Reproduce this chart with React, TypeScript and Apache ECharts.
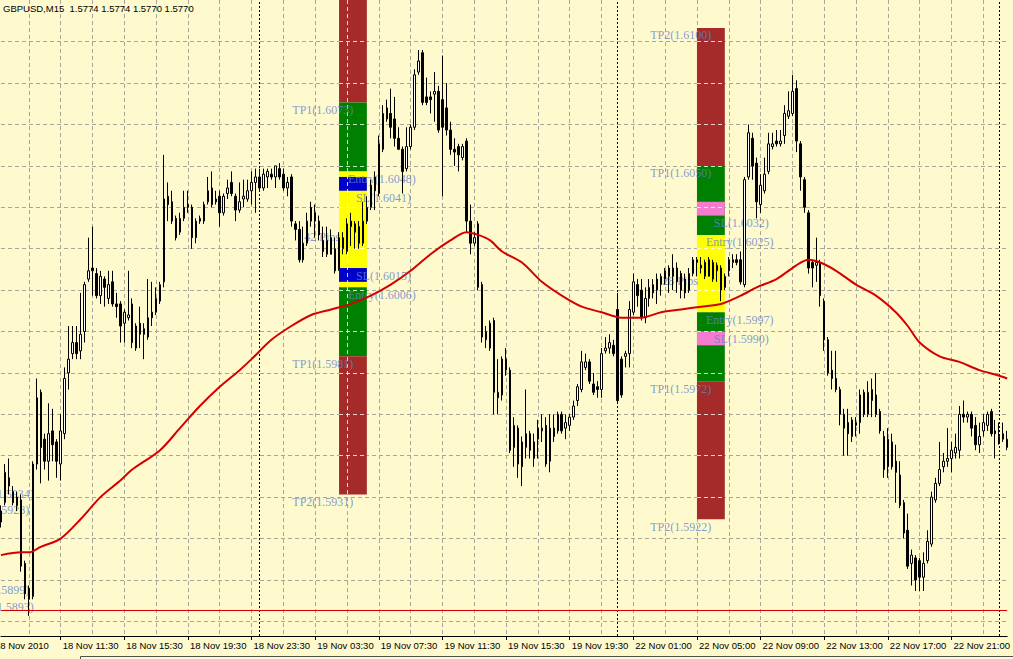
import React, { useEffect, useRef } from 'react';
import * as echarts from 'echarts';

// ---------- text ----------
const TITLE = 'GBPUSD,M15  1.5774 1.5774 1.5770 1.5770';
const FIRST_DATE_LABEL = '18 Nov 2010';
const TIME_TICKS = [
  '18 Nov 11:30', '18 Nov 15:30', '18 Nov 19:30', '18 Nov 23:30',
  '19 Nov 03:30', '19 Nov 07:30', '19 Nov 11:30', '19 Nov 15:30', '19 Nov 19:30',
  '22 Nov 01:00', '22 Nov 05:00', '22 Nov 09:00', '22 Nov 13:00', '22 Nov 17:00', '22 Nov 21:00',
];
const DAY_SEPARATORS = ['19 Nov 00:00', '22 Nov 00:00', '23 Nov 00:00'];

// trading sessions (M15 bars)
const SESSIONS = [
  { start: '2010-11-18T07:45:00Z', end: '2010-11-19T22:15:00Z' },
  { start: '2010-11-22T00:00:00Z', end: '2010-11-23T00:30:00Z' },
];

// ---------- price data: [open, close, low, high] ----------
const OHLC = [
  [1.5925,1.5921,1.5919,1.5927],[1.5928,1.5939,1.5927,1.5942],[1.5937,1.5934,1.5931,1.5944],[1.5932,1.5928,1.5927,1.5934],
  [1.5930,1.5927,1.5925,1.5932],[1.5929,1.5905,1.5903,1.5931],[1.5906,1.5895,1.5893,1.5907],[1.5897,1.5893,1.5887,1.5898],
  [1.5894,1.5942,1.5893,1.5943],[1.5942,1.5966,1.5940,1.5973],[1.5968,1.5948,1.5935,1.5969],[1.5951,1.5943,1.5940,1.5953],
  [1.5943,1.5953,1.5936,1.5964],[1.5954,1.5949,1.5943,1.5962],[1.5950,1.5943,1.5937,1.5951],[1.5942,1.5954,1.5936,1.5960],
  [1.5953,1.5973,1.5951,1.5977],[1.5975,1.5980,1.5969,1.5992],[1.5982,1.5986,1.5980,1.5992],[1.5986,1.5982,1.5980,1.5992],
  [1.5983,1.5989,1.5980,1.6004],[1.5990,1.6007,1.5986,1.6008],[1.6009,1.6012,1.6008,1.6024],[1.6013,1.6012,1.6003,1.6028],
  [1.6011,1.6003,1.6002,1.6013],[1.6003,1.6010,1.6000,1.6012],[1.6009,1.6006,1.5999,1.6010],[1.6002,1.6007,1.6000,1.6012],
  [1.6008,1.6000,1.5999,1.6012],[1.6000,1.5999,1.5995,1.6004],[1.6000,1.5992,1.5986,1.6001],[1.5993,1.5997,1.5986,1.5998],
  [1.5995,1.5996,1.5994,1.6012],[1.6000,1.5986,1.5984,1.6002],[1.5984,1.5992,1.5983,1.5993],[1.5993,1.5989,1.5984,1.5999],
  [1.5991,1.5989,1.5980,1.5993],[1.5988,1.5995,1.5987,1.6009],[1.5997,1.5995,1.5992,1.6008],[1.5997,1.6002,1.5996,1.6006],
  [1.6001,1.6007,1.6000,1.6008],[1.6008,1.6038,1.6006,1.6054],[1.6039,1.6036,1.6030,1.6044],[1.6037,1.6030,1.6029,1.6041],
  [1.6031,1.6024,1.6023,1.6032],[1.6026,1.6031,1.6025,1.6033],[1.6031,1.6035,1.6030,1.6041],[1.6036,1.6035,1.6033,1.6041],
  [1.6035,1.6024,1.6020,1.6036],[1.6024,1.6030,1.6022,1.6031],[1.6030,1.6031,1.6029,1.6032],[1.6030,1.6036,1.6029,1.6037],
  [1.6037,1.6041,1.6036,1.6046],[1.6042,1.6036,1.6035,1.6048],[1.6038,1.6037,1.6036,1.6041],[1.6039,1.6033,1.6028,1.6041],
  [1.6033,1.6039,1.6032,1.6040],[1.6040,1.6042,1.6038,1.6045],[1.6044,1.6040,1.6039,1.6048],[1.6039,1.6034,1.6030,1.6040],
  [1.6034,1.6037,1.6033,1.6044],[1.6038,1.6039,1.6035,1.6045],[1.6038,1.6041,1.6037,1.6045],[1.6041,1.6044,1.6036,1.6048],
  [1.6044,1.6046,1.6033,1.6049],[1.6046,1.6042,1.6041,1.6049],[1.6042,1.6047,1.6041,1.6049],[1.6046,1.6048,1.6042,1.6049],
  [1.6047,1.6046,1.6045,1.6049],[1.6046,1.6050,1.6042,1.6050],[1.6049,1.6046,1.6045,1.6051],[1.6047,1.6042,1.6041,1.6049],
  [1.6042,1.6044,1.6039,1.6046],[1.6046,1.6030,1.6028,1.6047],[1.6029,1.6027,1.6023,1.6030],[1.6027,1.6016,1.6015,1.6030],
  [1.6022,1.6016,1.6015,1.6028],[1.6022,1.6030,1.6021,1.6033],[1.6030,1.6035,1.6028,1.6037],[1.6033,1.6030,1.6024,1.6036],
  [1.6030,1.6025,1.6023,1.6032],[1.6023,1.6019,1.6017,1.6028],[1.6018,1.6023,1.6017,1.6028],[1.6024,1.6018,1.6018,1.6027],
  [1.6020,1.6012,1.6011,1.6024],[1.6013,1.6024,1.6012,1.6026],[1.6020,1.6024,1.6018,1.6026],[1.6019,1.6029,1.6018,1.6031],
  [1.6028,1.6030,1.6021,1.6033],[1.6029,1.6026,1.6020,1.6030],[1.6028,1.6022,1.6020,1.6030],[1.6022,1.6030,1.6021,1.6037],
  [1.6030,1.6035,1.6029,1.6039],[1.6035,1.6043,1.6034,1.6045],[1.6046,1.6041,1.6034,1.6048],[1.6040,1.6058,1.6039,1.6061],
  [1.6056,1.6069,1.6055,1.6072],[1.6067,1.6071,1.6066,1.6074],[1.6069,1.6064,1.6060,1.6078],[1.6067,1.6060,1.6057,1.6075],
  [1.6060,1.6056,1.6056,1.6064],[1.6056,1.6048,1.6040,1.6057],[1.6049,1.6057,1.6048,1.6064],[1.6057,1.6064,1.6056,1.6065],
  [1.6064,1.6083,1.6063,1.6085],[1.6084,1.6088,1.6083,1.6092],[1.6091,1.6073,1.6072,1.6092],[1.6075,1.6073,1.6072,1.6082],
  [1.6075,1.6074,1.6069,1.6077],[1.6076,1.6077,1.6066,1.6084],[1.6077,1.6063,1.6062,1.6079],[1.6074,1.6064,1.6039,1.6090],
  [1.6071,1.6063,1.6061,1.6080],[1.6063,1.6056,1.6054,1.6066],[1.6056,1.6055,1.6050,1.6060],[1.6057,1.6054,1.6048,1.6058],
  [1.6053,1.6057,1.6052,1.6058],[1.6059,1.6030,1.6026,1.6060],[1.6030,1.6022,1.6018,1.6036],[1.6022,1.6024,1.6021,1.6026],
  [1.6029,1.6006,1.6005,1.6030],[1.6007,1.5988,1.5986,1.6008],[1.5987,1.5990,1.5984,1.5992],[1.5984,1.5993,1.5983,1.5994],
  [1.5994,1.5968,1.5960,1.5995],[1.5966,1.5968,1.5960,1.5980],[1.5980,1.5967,1.5965,1.5981],[1.5976,1.5980,1.5974,1.5984],
  [1.5976,1.5947,1.5946,1.5977],[1.5948,1.5956,1.5941,1.5959],[1.5955,1.5942,1.5937,1.5956],[1.5941,1.5950,1.5934,1.5952],
  [1.5948,1.5953,1.5944,1.5969],[1.5953,1.5947,1.5944,1.5954],[1.5944,1.5950,1.5941,1.5953],[1.5951,1.5955,1.5944,1.5958],
  [1.5954,1.5955,1.5950,1.5960],[1.5956,1.5942,1.5941,1.5959],[1.5943,1.5955,1.5939,1.5960],[1.5955,1.5952,1.5950,1.5960],
  [1.5954,1.5960,1.5953,1.5961],[1.5960,1.5954,1.5953,1.5961],[1.5955,1.5957,1.5951,1.5960],[1.5956,1.5959,1.5954,1.5960],
  [1.5959,1.5963,1.5958,1.5965],[1.5965,1.5970,1.5963,1.5971],[1.5969,1.5979,1.5968,1.5983],[1.5977,1.5979,1.5976,1.5982],
  [1.5979,1.5972,1.5971,1.5980],[1.5971,1.5968,1.5967,1.5975],[1.5970,1.5969,1.5966,1.5972],[1.5969,1.5982,1.5966,1.5984],
  [1.5983,1.5984,1.5982,1.5988],[1.5984,1.5986,1.5982,1.5989],[1.5985,1.5982,1.5981,1.5987],[1.5998,1.5965,1.5964,1.6004],
  [1.5980,1.5967,1.5966,1.5981],[1.5981,1.5982,1.5977,1.5983],[1.5982,1.5998,1.5977,1.6001],[1.5997,1.6008,1.5996,1.6011],
  [1.6007,1.6003,1.5999,1.6009],[1.6005,1.5995,1.5994,1.6009],[1.5995,1.6002,1.5993,1.6006],[1.6002,1.6006,1.5999,1.6009],
  [1.6004,1.6007,1.6002,1.6009],[1.6005,1.6009,1.6000,1.6011],[1.6007,1.6010,1.6003,1.6011],[1.6009,1.6012,1.6007,1.6013],
  [1.6010,1.6013,1.6004,1.6014],[1.6013,1.6010,1.6005,1.6018],[1.6013,1.6008,1.6004,1.6015],[1.6011,1.6005,1.6002,1.6012],
  [1.6009,1.6004,1.6002,1.6011],[1.6005,1.6011,1.6004,1.6013],[1.6011,1.6016,1.6010,1.6017],[1.6015,1.6016,1.6010,1.6017],
  [1.6014,1.6013,1.6011,1.6017],[1.6015,1.6010,1.6009,1.6016],[1.6010,1.6016,1.6010,1.6017],[1.6015,1.6009,1.6008,1.6016],
  [1.6012,1.6014,1.6008,1.6015],[1.6013,1.6005,1.6001,1.6014],[1.6006,1.6010,1.6005,1.6011],[1.6012,1.6016,1.6010,1.6017],
  [1.6015,1.6016,1.6013,1.6018],[1.6016,1.6015,1.6014,1.6018],[1.6016,1.6008,1.6007,1.6019],[1.6007,1.6045,1.6006,1.6046],
  [1.6046,1.6062,1.6045,1.6065],[1.6060,1.6050,1.6045,1.6062],[1.6051,1.6037,1.6031,1.6053],[1.6036,1.6043,1.6033,1.6047],
  [1.6041,1.6047,1.6040,1.6053],[1.6048,1.6058,1.6047,1.6062],[1.6057,1.6058,1.6056,1.6062],[1.6059,1.6058,1.6057,1.6063],
  [1.6058,1.6059,1.6057,1.6063],[1.6061,1.6069,1.6058,1.6072],[1.6068,1.6070,1.6067,1.6077],[1.6069,1.6077,1.6068,1.6083],
  [1.6078,1.6059,1.6055,1.6081],[1.6058,1.6046,1.6041,1.6059],[1.6045,1.6035,1.6033,1.6046],[1.6033,1.6013,1.6011,1.6034],
  [1.6015,1.6013,1.6006,1.6016],[1.6014,1.6015,1.6008,1.6024],[1.6015,1.6003,1.5999,1.6016],[1.6001,1.5987,1.5983,1.6002],
  [1.5987,1.5975,1.5974,1.5988],[1.5976,1.5973,1.5969,1.5983],[1.5973,1.5969,1.5968,1.5983],[1.5969,1.5960,1.5956,1.5970],
  [1.5960,1.5955,1.5945,1.5962],[1.5957,1.5953,1.5945,1.5962],[1.5952,1.5958,1.5950,1.5959],[1.5956,1.5957,1.5952,1.5959],
  [1.5957,1.5967,1.5953,1.5969],[1.5960,1.5968,1.5959,1.5969],[1.5960,1.5968,1.5959,1.5972],[1.5965,1.5969,1.5959,1.5973],
  [1.5967,1.5960,1.5959,1.5975],[1.5961,1.5954,1.5953,1.5962],[1.5952,1.5940,1.5937,1.5954],[1.5941,1.5951,1.5937,1.5955],
  [1.5950,1.5941,1.5940,1.5953],[1.5943,1.5939,1.5928,1.5949],[1.5938,1.5927,1.5926,1.5943],[1.5928,1.5917,1.5915,1.5929],
  [1.5918,1.5905,1.5904,1.5924],[1.5906,1.5909,1.5898,1.5911],[1.5908,1.5900,1.5896,1.5909],[1.5907,1.5901,1.5896,1.5908],
  [1.5901,1.5906,1.5896,1.5910],[1.5907,1.5914,1.5906,1.5918],[1.5913,1.5930,1.5912,1.5932],[1.5929,1.5935,1.5928,1.5937],
  [1.5935,1.5940,1.5934,1.5950],[1.5941,1.5943,1.5939,1.5946],[1.5943,1.5944,1.5941,1.5955],[1.5944,1.5947,1.5939,1.5950],
  [1.5946,1.5948,1.5944,1.5953],[1.5947,1.5960,1.5944,1.5963],[1.5960,1.5959,1.5957,1.5965],[1.5959,1.5960,1.5957,1.5961],
  [1.5960,1.5955,1.5952,1.5961],[1.5956,1.5949,1.5947,1.5959],[1.5949,1.5952,1.5946,1.5957],[1.5954,1.5957,1.5952,1.5960],
  [1.5956,1.5960,1.5954,1.5961],[1.5961,1.5953,1.5952,1.5962],[1.5954,1.5953,1.5944,1.5958],[1.5952,1.5950,1.5949,1.5957],
  [1.5951,1.5953,1.5950,1.5957],[1.5948,1.5951,1.5947,1.5954],
];

// moving average, read at [bar index, price]
const MA_POINTS = [
  [0,1.5909],[5,1.5910],[7,1.5910],[10,1.5912],[15,1.5915],[20,1.5922],[25,1.5930],[30,1.5936],[33,1.5940],
  [40,1.5947],[45,1.5955],[50,1.5963],[55,1.5970],[60,1.5976],[63,1.5980],[68,1.5987],[73,1.5992],[78,1.5996],
  [83,1.5998],[88,1.6000],[93,1.6003],[98,1.6007],[103,1.6012],[108,1.6018],[113,1.6023],[117,1.6026],[120,1.6025],
  [123,1.6023],[126,1.6019],[131,1.6015],[136,1.6008],[141,1.6003],[146,1.5999],[151,1.5997],[156,1.5995],
  [161,1.5995],[166,1.5997],[171,1.5998],[176,1.5999],[181,1.6000],[186,1.6003],[190,1.6006],[195,1.6009],
  [200,1.6014],[203,1.6016],[206,1.6015],[210,1.6012],[215,1.6007],[220,1.6003],[225,1.5997],[228,1.5992],
  [231,1.5986],[236,1.5981],[241,1.5979],[246,1.5976],[251,1.5974],[253,1.5973],
];

const PRICE_LINE = 1.5889;
const GRID_LEVELS = [1.5885,1.5900,1.5915,1.5930,1.5945,1.5960,1.5975,1.5990,1.6005,1.6020,1.6035,1.6050,1.6065,1.6080,1.6095];
const Y_MIN = 1.58797;
const Y_MAX = 1.61101;

// zone boxes: bars (from,to) and price bands [kind, top, bottom]
const BOX_1 = { from: 85, to: 92, zones: [
  ['tp2', 1.6123, 1.6073], ['tp1', 1.6073, 1.6048], ['range', 1.6048, 1.6006],
  ['stopA', 1.6046, 1.6041], ['stopA', 1.6013, 1.6008], ['tp1', 1.6006, 1.5981], ['tp2', 1.5981, 1.5931],
] };
const BOX_2 = { from: 175, to: 182, zones: [
  ['tp2', 1.6100, 1.6050], ['tp1', 1.6050, 1.6025], ['stopB', 1.6037, 1.6032], ['range', 1.6025, 1.5997],
  ['tp1', 1.5997, 1.5972], ['stopB', 1.5990, 1.5985], ['tp2', 1.5972, 1.5922],
] };

// text objects: [text, bar index, price level]
const LABELS = [
  ['Entry(1.5934)', -9, 1.5934], ['SL(1.5928)', -7, 1.5928], ['SL(1.5899)', -7, 1.5899], ['Entry(1.5893)', -9, 1.5893],
  ['TP1(1.6073)', 73, 1.6073], ['Entry(1.6048)', 87, 1.6048], ['SL(1.6041)', 89, 1.6041], ['42 Pips', 76, 1.6027],
  ['SL(1.6015)', 89, 1.6013], ['Entry(1.6006)', 87, 1.6006], ['TP1(1.5981)', 73, 1.5981], ['TP2(1.5931)', 73, 1.5931],
  ['TP2(1.6100)', 163, 1.6100], ['TP1(1.6050)', 163, 1.6050], ['SL(1.6032)', 179, 1.6032], ['Entry(1.6025)', 177, 1.6025],
  ['28 Pips', 166, 1.6011], ['Entry(1.5997)', 177, 1.5997], ['SL(1.5990)', 179, 1.5990], ['TP1(1.5972)', 163, 1.5972],
  ['TP2(1.5922)', 163, 1.5922],
];

// ---------- styles ----------
const BG = '#fffacd';
const GRID_COLOR = '#a9a79a';
const ZONE_COLORS: Record<string, string> = {
  tp2: '#a52a2a', tp1: '#008000', range: '#ffff00', stopA: '#0000cd', stopB: '#f47cd0',
};
const LABEL_COLOR = '#6482d0';
const MONTHS = ['Jan','Feb','Mar','Apr','May','Jun','Jul','Aug','Sep','Oct','Nov','Dec'];

function pad(n: number) { return n < 10 ? '0' + n : String(n); }
function buildBarTimes(): string[] {
  const out: string[] = [];
  for (const s of SESSIONS) {
    const end = Date.parse(s.end);
    for (let t = Date.parse(s.start); t <= end; t += 15 * 60000) {
      const d = new Date(t);
      out.push(`${d.getUTCDate()} ${MONTHS[d.getUTCMonth()]} ${pad(d.getUTCHours())}:${pad(d.getUTCMinutes())}`);
    }
  }
  return out;
}

export default function App() {
  const ref = useRef<HTMLDivElement>(null);
  useEffect(() => {
    if (!ref.current) return;
    const chart = echarts.init(ref.current, undefined, { renderer: 'svg' });
    const times = buildBarTimes();
    const last = times.length - 1;
    const tickSet = new Set(TIME_TICKS);
    const showTick = (_i: number, v: string) => tickSet.has(v);
    const boxes = [BOX_1, BOX_2];

    const areaData: any[] = [];
    const whiteLines: any[] = [];
    boxes.forEach((b) => {
      let top = -Infinity, bottom = Infinity;
      b.zones.forEach((z: any) => {
        const t = Math.min(z[1], Y_MAX);
        top = Math.max(top, t); bottom = Math.min(bottom, z[2]);
        areaData.push([
          { xAxis: b.from, yAxis: t, itemStyle: { color: ZONE_COLORS[z[0]], opacity: 1 } },
          { xAxis: b.to, yAxis: z[2] },
        ]);
      });
      GRID_LEVELS.forEach((lv) => {
        if (lv < top && lv > bottom) whiteLines.push([{ coord: [b.from, lv] }, { coord: [b.to, lv] }]);
      });
      for (let i = b.from + 1; i < b.to; i++) {
        if (i % 8 === 7) whiteLines.push([{ coord: [i, top] }, { coord: [i, bottom] }]);
      }
    });

    const sepIdx = DAY_SEPARATORS.map((s) => times.indexOf(s)).filter((i) => i >= 0);
    const mlBase = { silent: true, symbol: ['none', 'none'], label: { show: false }, precision: 6 };

    chart.setOption({
      animation: false,
      backgroundColor: BG,
      grid: { left: 1, right: 0, top: 0, bottom: 23, containLabel: false },
      xAxis: [
        {
          type: 'category', data: times, boundaryGap: false,
          axisLine: { show: true, lineStyle: { color: '#000', width: 1 } },
          axisTick: { show: true, interval: showTick, length: 4, lineStyle: { color: '#000' } },
          axisLabel: {
            show: true, interval: showTick, align: 'left', margin: 4, padding: [0, 0, 0, 2],
            color: '#000', fontSize: 9.5, fontFamily: 'Liberation Sans, Arial, sans-serif',
          },
          splitLine: {
            show: true, interval: (i: number) => i % 8 === 7,
            lineStyle: { color: GRID_COLOR, type: [4, 3], width: 1 },
          },
        },
        { type: 'value', min: 0, max: last, show: false },
      ],
      yAxis: { type: 'value', min: Y_MIN, max: Y_MAX, show: false, scale: true },
      graphic: [
        { type: 'text', x: 3, y: 8, z: 100, style: { text: TITLE, fill: '#000', fontSize: 9.5, fontFamily: 'Liberation Sans, Arial, sans-serif', verticalAlign: 'middle', align: 'left' } },
        { type: 'text', x: -5, y: 645, z: 100, style: { text: FIRST_DATE_LABEL, fill: '#000', fontSize: 9.5, fontFamily: 'Liberation Sans, Arial, sans-serif', verticalAlign: 'middle', align: 'left' } },
        { type: 'polyline', z: 100, shape: { points: [[80.5, 660], [80.5, 656.5], [1013, 656.5]] }, style: { stroke: '#505050', lineWidth: 1, fill: null } },
      ],
      series: [
        {
          name: 'grid', type: 'line', xAxisIndex: 1, data: [], z: 1, silent: true,
          markLine: {
            ...mlBase, z: 1,
            lineStyle: { color: GRID_COLOR, type: [4, 3], width: 1 },
            data: GRID_LEVELS.map((v) => ({ yAxis: v })),
          },
        },
        {
          name: 'zones', type: 'line', xAxisIndex: 1, data: [], z: 2, silent: true,
          markArea: { silent: true, z: 2, data: areaData },
        },
        {
          name: 'zoneGrid', type: 'line', xAxisIndex: 1, data: [], z: 3, silent: true,
          markLine: {
            ...mlBase, z: 3,
            lineStyle: { color: 'rgba(255,255,255,0.8)', type: [4, 3], width: 1 },
            data: whiteLines,
          },
        },
        {
          name: 'separators', type: 'line', xAxisIndex: 1, data: [], z: 3, silent: true,
          markLine: {
            ...mlBase, z: 3,
            lineStyle: { color: '#000', type: [2, 2], width: 1 },
            data: sepIdx.map((i) => ({ xAxis: i })),
          },
        },
        {
          name: 'labels', type: 'scatter', xAxisIndex: 1, z: 4, silent: true, clip: false,
          symbolSize: 1, itemStyle: { color: 'rgba(0,0,0,0)' },
          data: LABELS.map((l) => ({ name: l[0], value: [l[1], l[2]] })),
          label: {
            show: true, position: [1.5, 8], align: 'left', verticalAlign: 'middle',
            formatter: '{b}', color: LABEL_COLOR, fontSize: 12,
            fontFamily: 'Liberation Serif, Times New Roman, serif',
          },
        },
        {
          name: 'GBPUSD', type: 'candlestick', data: OHLC, z: 5, silent: true, barWidth: 2,
          itemStyle: { color: '#ffffff', color0: '#000000', borderColor: '#000000', borderColor0: '#000000', borderWidth: 1 },
        },
        {
          name: 'MA', type: 'line', xAxisIndex: 1, data: MA_POINTS, z: 6, silent: true,
          showSymbol: false, symbol: 'none', smooth: 0.3,
          lineStyle: { color: '#d40000', width: 2 },
        },
        {
          name: 'price', type: 'line', xAxisIndex: 1, data: [], z: 6, silent: true,
          markLine: {
            ...mlBase, z: 6,
            lineStyle: { color: '#d40000', type: 'solid', width: 1 },
            data: [{ yAxis: PRICE_LINE }],
          },
        },
      ],
    });
    return () => chart.dispose();
  }, []);
  return (
    <div
      ref={ref}
      style={{ position: 'fixed', left: 0, top: 0, width: 1013, height: 659 }}
    />
  );
}
